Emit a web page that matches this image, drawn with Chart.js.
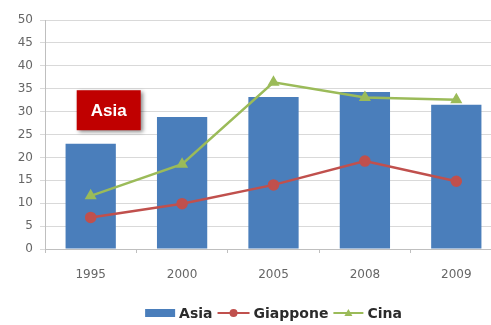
<!DOCTYPE html>
<html>
<head>
<meta charset="utf-8">
<script src="https://cdn.jsdelivr.net/npm/chart.js@4/dist/chart.umd.min.js"></script>
<style>
  html, body { margin: 0; padding: 0; background: #fff; }
  #wrap { width: 491px; height: 325px; overflow: hidden; }
</style>
</head>
<body>
<div id="wrap"><canvas id="canvas" width="509" height="325"></canvas></div>
<script>
const years = ['1995', '2000', '2005', '2008', '2009'];
const asia = [23, 28.8, 33.2, 34.3, 31.5];
const giappone = [6.9, 9.9, 14, 19.2, 14.8];
const cina = [11.6, 18.5, 36.4, 33.1, 32.6];
const yTicks = [0, 5, 10, 15, 20, 25, 30, 35, 40, 45, 50];
const legendOrder = ['Asia', 'Giappone', 'Cina'];

const BLUE = '#4a7ebb';
const RED = '#c0504d';
const GREEN = '#9bbb59';
const FONT = '"DejaVu Sans", Verdana, sans-serif';

// red "Asia" callout, placed through the scales
const calloutPlugin = {
  id: 'callout',
  afterDatasetsDraw(chart) {
    const {ctx, scales: {x, y}} = chart;
    const cx = x.getPixelForValue(0) + 18;
    const cy = y.getPixelForValue(30.3);
    const w = 64, h = 40;
    ctx.save();
    ctx.shadowColor = 'rgba(0,0,0,0.45)';
    ctx.shadowBlur = 4;
    ctx.shadowOffsetX = 2;
    ctx.shadowOffsetY = 2;
    ctx.fillStyle = '#c00000';
    ctx.fillRect(cx - w / 2, cy - h / 2, w, h);
    ctx.restore();
    ctx.save();
    ctx.fillStyle = '#fff';
    ctx.font = 'bold 17px "Liberation Sans", Arial, sans-serif';
    ctx.textAlign = 'center';
    ctx.textBaseline = 'middle';
    ctx.fillText('Asia', cx, cy + 1);
    ctx.restore();
  }
};

// bottom legend with bar swatch and line+marker swatches
const legendPlugin = {
  id: 'bottomLegend',
  afterDraw(chart) {
    const {ctx, chartArea} = chart;
    const ds = legendOrder.map(l => chart.data.datasets.find(d => d.label === l));
    ctx.save();
    ctx.font = 'bold 14px ' + FONT;
    ctx.textBaseline = 'middle';
    const sw = [30, 32, 30];
    const gap = 4, itemGap = 5;
    let total = 0;
    ds.forEach((d, i) => {
      total += sw[i] + gap + ctx.measureText(d.label).width + (i < ds.length - 1 ? itemGap : 0);
    });
    let xPos = (chartArea.left + chartArea.right) / 2 - total / 2;
    const yPos = 313;
    ds.forEach((d, i) => {
      if (d.type === 'bar') {
        ctx.fillStyle = d.backgroundColor;
        ctx.fillRect(xPos, yPos - 4, sw[i], 8);
      } else {
        ctx.strokeStyle = d.borderColor;
        ctx.lineWidth = 2;
        ctx.beginPath();
        ctx.moveTo(xPos, yPos);
        ctx.lineTo(xPos + sw[i], yPos);
        ctx.stroke();
        const mx = xPos + sw[i] / 2;
        ctx.fillStyle = d.pointBackgroundColor;
        ctx.beginPath();
        if (d.pointStyle === 'triangle') {
          ctx.moveTo(mx, yPos - 4);
          ctx.lineTo(mx + 4, yPos + 3);
          ctx.lineTo(mx - 4, yPos + 3);
          ctx.closePath();
        } else {
          ctx.arc(mx, yPos, 4, 0, Math.PI * 2);
        }
        ctx.fill();
      }
      xPos += sw[i] + gap;
      ctx.fillStyle = '#2b2b2b';
      ctx.fillText(d.label, xPos, yPos + 1);
      xPos += ctx.measureText(d.label).width + itemGap;
    });
    ctx.restore();
  }
};

const config = {
  type: 'bar',
  data: {
    labels: years,
    datasets: [
      {
        type: 'line',
        label: 'Giappone',
        data: giappone,
        borderColor: RED,
        backgroundColor: RED,
        pointBackgroundColor: RED,
        pointBorderColor: RED,
        pointStyle: 'circle',
        pointRadius: 4.5,
        borderWidth: 2.5,
        order: 1
      },
      {
        type: 'line',
        label: 'Cina',
        data: cina,
        borderColor: GREEN,
        backgroundColor: GREEN,
        pointBackgroundColor: GREEN,
        pointBorderColor: GREEN,
        pointStyle: 'triangle',
        pointRadius: 4.5,
        borderWidth: 2.5,
        order: 0
      },
      {
        type: 'bar',
        label: 'Asia',
        data: asia,
        backgroundColor: BLUE,
        barPercentage: 0.55,
        categoryPercentage: 1,
        order: 2
      }
    ]
  },
  options: {
    responsive: false,
    animation: false,
    layout: { padding: { top: 20, right: 0, bottom: 0, left: 0 } },
    plugins: {
      legend: { display: false },
      tooltip: { enabled: false }
    },
    scales: {
      x: {
        grid: {
          display: true,
          drawOnChartArea: false,
          tickLength: 4,
          color: '#bfbfbf'
        },
        border: { color: '#bfbfbf' },
        ticks: {
          color: '#666666',
          font: { family: FONT, size: 12 },
          padding: 15
        },
        afterFit(scale) { scale.height = 76; }
      },
      y: {
        min: 0,
        max: 50,
        afterBuildTicks(scale) {
          scale.ticks = yTicks.map(v => ({value: v}));
        },
        grid: {
          color: '#d9d9d9',
          tickLength: 5,
          drawTicks: true
        },
        border: { color: '#bfbfbf' },
        ticks: {
          color: '#666666',
          font: { family: FONT, size: 12 },
          padding: 7
        },
        afterFit(scale) { scale.width = 45; }
      }
    }
  },
  plugins: [calloutPlugin, legendPlugin]
};

document.addEventListener('DOMContentLoaded', () => {
  const context = document.getElementById('canvas').getContext('2d');
  new Chart(context, config);
});
</script>
</body>
</html>
